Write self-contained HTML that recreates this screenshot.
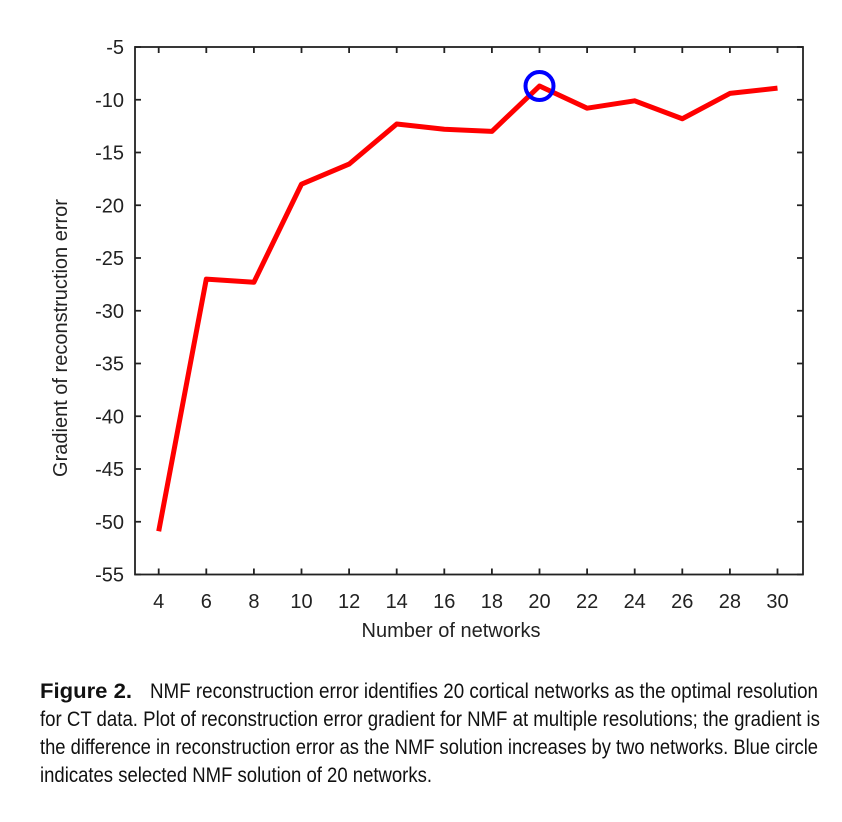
<!DOCTYPE html>
<html><head><meta charset="utf-8"><style>
html,body{margin:0;padding:0;background:#fff;}
svg{display:block;font-family:"Liberation Sans",sans-serif;}
</style></head><body>
<svg id="chart" width="842" height="822" viewBox="0 0 842 822" xmlns="http://www.w3.org/2000/svg">
<g id="axes"></g>
<g id="series"></g>
<text x="451" y="637" font-size="20" text-anchor="middle" fill="#222">Number of networks</text>
<text transform="translate(67,338) rotate(-90)" font-size="20" text-anchor="middle" fill="#222">Gradient of reconstruction error</text>
<g font-size="21" fill="#111" font-family="'Liberation Sans Narrow','Liberation Sans',sans-serif">
<text x="40" y="698" textLength="92" lengthAdjust="spacingAndGlyphs" font-weight="bold">Figure 2.</text>
<text x="150" y="698" textLength="668" lengthAdjust="spacingAndGlyphs">NMF reconstruction error identifies 20 cortical networks as the optimal resolution</text>
<text x="40" y="726" textLength="780" lengthAdjust="spacingAndGlyphs">for CT data. Plot of reconstruction error gradient for NMF at multiple resolutions; the gradient is</text>
<text x="40" y="754" textLength="778" lengthAdjust="spacingAndGlyphs">the difference in reconstruction error as the NMF solution increases by two networks. Blue circle</text>
<text x="40" y="782" textLength="392" lengthAdjust="spacingAndGlyphs">indicates selected NMF solution of 20 networks.</text>
</g>
</svg>
<script>
const categories=[4,6,8,10,12,14,16,18,20,22,24,26,28,30];
const values=[-50.9,-27.0,-27.3,-18.0,-16.1,-12.3,-12.8,-13.0,-8.7,-10.8,-10.1,-11.8,-9.4,-8.9];
const yTicks=[-5,-10,-15,-20,-25,-30,-35,-40,-45,-50,-55];
const xTicks=[4,6,8,10,12,14,16,18,20,22,24,26,28,30];
const selected=20;
const L=135,R=803,T=47,B=574.5;
const xs=v=>158.7+(v-4)*23.8;
const ys=v=>T+(-5-v)*(B-T)/50;
const NS='http://www.w3.org/2000/svg';
function mk(tag,attrs,parent){const e=document.createElementNS(NS,tag);for(const k in attrs)e.setAttribute(k,attrs[k]);parent.appendChild(e);return e;}
const ax=document.getElementById('axes');
let f=mk('rect',{x:L,y:T,width:R-L,height:B-T,fill:'none',stroke:'#222','stroke-width':1.8},ax);


yTicks.forEach(v=>{const y=ys(v);
 let t=mk('path',{d:`M${L},${y}h6M${R},${y}h-6`,stroke:'#222','stroke-width':1.8},ax);
 
 
 let l=mk('text',{x:124,y:y+7,'font-size':20,'text-anchor':'end',fill:'#222'},ax);l.textContent=v;
 
 
});
xTicks.forEach(v=>{const x=xs(v);
 let t=mk('path',{d:`M${x},${B}v-6M${x},${T}v6`,stroke:'#222','stroke-width':1.8},ax);
 
 
 let l=mk('text',{x:x,y:608,'font-size':20,'text-anchor':'middle',fill:'#222'},ax);l.textContent=v;
 
 
});
const sg=document.getElementById('series');
let line=mk('polyline',{points:categories.map((c,i)=>xs(c)+','+ys(values[i])).join(' '),fill:'none',stroke:'#ff0000','stroke-width':5,'stroke-linejoin':'round'},sg);


const si=categories.indexOf(selected);
let c=mk('circle',{cx:xs(selected),cy:ys(values[si]),r:14,fill:'none',stroke:'#0000ff','stroke-width':4},sg);


</script>
</body></html>
